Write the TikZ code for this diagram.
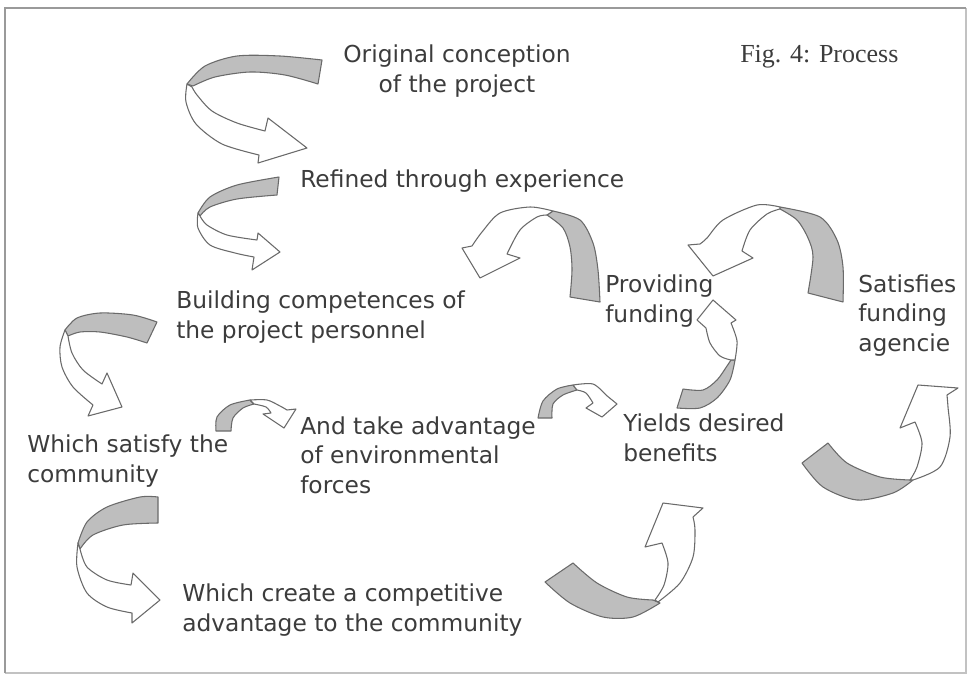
\documentclass[tikz,border=0pt]{standalone}
\usepackage{fontspec}
\setmainfont{DejaVu Sans}
\newfontfamily\figfont{Liberation Serif}
\definecolor{bandgrey}{HTML}{BEBEBE}
\definecolor{edgegrey}{HTML}{6A6A6A}
\definecolor{txtgrey}{HTML}{3C3C3C}
\definecolor{framegrey}{HTML}{9A9A9A}
\tikzset{
  backband/.style={fill=bandgrey, draw=edgegrey, line width=0.8pt, line join=round},
  frontband/.style={fill=white, draw=edgegrey, line width=0.8pt, line join=round},
  lbl/.style={font=\fontsize{17.5}{22}\selectfont, text=txtgrey, inner sep=0pt, align=left, anchor=base west},
}
\begin{document}
\begin{tikzpicture}[x={(0.75pt,0)}, y={(0,-0.75pt)}]
\useasboundingbox (0,0) rectangle (978,682);
% frame
\draw[framegrey!60, line width=1.5pt] (966,8) -- (966,673) -- (5,673);
\draw[framegrey, line width=1.8pt] (5,673) -- (5,8) -- (966,8);

% A1 original -> refined
\filldraw[backband] plot[smooth] coordinates {(322,60) (280,56) (237,56) (205,66) (187,84)}
  -- plot[smooth] coordinates {(193,86) (215,77) (250,72) (285,75) (318,84)} -- cycle;
\filldraw[frontband] plot[smooth] coordinates {(187,84) (186,102) (196,124) (222,144) (259,155)}
  -- (258,163) -- (307,148) -- (268,118)
  -- plot[smooth] coordinates {(265,131) (237,123) (212,111) (197,95) (192,87)} -- cycle;

% A2 refined -> building
\filldraw[backband] plot[smooth] coordinates {(279,177) (237,185) (210,197) (198,213)}
  -- plot[smooth] coordinates {(200,216) (210,207) (237,199) (277,195)} -- cycle;
\filldraw[frontband] plot[smooth] coordinates {(198,213) (198,228) (210,245) (235,253) (254,257)}
  -- (252,270) -- (280,252) -- (258,233)
  -- plot[smooth] coordinates {(257,240) (227,235) (207,225) (200,216)} -- cycle;

% A3 building -> which satisfy
\filldraw[backband] plot[smooth] coordinates {(157,322) (133,315) (100,313) (77,318) (65,330)}
  -- plot[smooth] coordinates {(68,336) (80,332) (100,332) (127,337) (147,343)} -- cycle;
\filldraw[frontband] plot[smooth] coordinates {(65,330) (60,347) (62,367) (73,387) (93,405)}
  -- (88,416) -- (122,407) -- (107,373)
  -- plot[smooth] coordinates {(102,384) (83,370) (72,353) (68,336)} -- cycle;

% A4 which satisfy -> and take
\filldraw[backband] plot[smooth] coordinates {(216,431) (217,417) (230,405) (250,400)}
  -- plot[smooth] coordinates {(254,404) (243,408) (233,418) (231,431)} -- cycle;
\filldraw[frontband] plot[smooth] coordinates {(250,400) (267,400) (280,406) (287,410)}
  -- (296,409) -- (284,428) -- (263,414)
  -- plot[smooth] coordinates {(271,413) (266,407) (254,404)} -- cycle;

% A5 and take -> yields
\filldraw[backband] plot[smooth] coordinates {(538,418) (543,401) (557,389) (573,385)}
  -- plot[smooth] coordinates {(577,390) (563,395) (553,404) (552,418)} -- cycle;
\filldraw[frontband] plot[smooth] coordinates {(573,385) (593,384) (606,395)}
  -- (617,404) -- (602,417) -- (586,408)
  -- plot[smooth] coordinates {(593,403) (586,393) (577,390)} -- cycle;

% A6 which create -> yields
\filldraw[backband] plot[smooth] coordinates {(545,582) (570,603) (603,617) (633,617) (660,603)}
  -- plot[smooth] coordinates {(653,600) (627,597) (597,583) (573,563)} -- cycle;
\filldraw[frontband] plot[smooth] coordinates {(658,602) (680,583) (693,557) (695,530) (693,517)}
  -- (703,508) -- (663,503) -- (645,547)
  -- plot[smooth] coordinates {(662,543) (668,563) (664,585) (655,600)} -- cycle;

% A7 which satisfy -> which create
\filldraw[backband] plot[smooth] coordinates {(158,497) (140,497) (107,507) (87,522) (78,543)}
  -- plot[smooth] coordinates {(80,549) (93,535) (123,525) (158,523)} -- cycle;
\filldraw[frontband] plot[smooth] coordinates {(78,543) (77,567) (87,593) (107,607) (132,613)}
  -- (132,623) -- (160,600) -- (133,573)
  -- plot[smooth] coordinates {(131,585) (107,580) (87,567) (80,549)} -- cycle;

% A8 -> satisfies
\filldraw[backband] plot[smooth] coordinates {(802,463) (823,487) (857,500) (893,493) (913,480)}
  -- plot[smooth] coordinates {(910,480) (880,477) (847,463) (828,443)} -- cycle;
\filldraw[frontband] plot[smooth] coordinates {(913,480) (940,467) (950,437) (948,407) (947,395)}
  -- (958,388) -- (918,385) -- (900,428)
  -- plot[smooth] coordinates {(915,422) (922,443) (917,467) (910,480)} -- cycle;

% A9 providing -> building
\filldraw[backband] plot[smooth] coordinates {(600,302) (598,270) (593,243) (580,220) (553,211)}
  -- plot[smooth] coordinates {(547,215) (563,228) (570,247) (572,270) (570,297)} -- cycle;
\filldraw[frontband] plot[smooth] coordinates {(553,211) (530,207) (500,213) (482,232) (472,246)}
  -- (462,248) -- (480,278) -- (520,258)
  -- plot[smooth] coordinates {(507,254) (520,230) (537,217) (547,215)} -- cycle;

% A10 satisfies -> providing
\filldraw[backband] plot[smooth] coordinates {(843,302) (843,267) (837,240) (820,217) (780,207)}
  -- plot[smooth] coordinates {(780,209) (797,220) (808,238) (813,257) (808,293)} -- cycle;
\filldraw[frontband] plot[smooth] coordinates {(780,207) (757,205) (723,220) (707,238) (700,244)}
  -- (688,245) -- (713,276) -- (753,258)
  -- plot[smooth] coordinates {(742,251) (750,230) (767,214) (780,209)} -- cycle;

% A11 yields -> providing
\filldraw[backband] plot[smooth] coordinates {(677,408) (700,408) (717,398) (730,380) (735,360)}
  -- plot[smooth] coordinates {(731,360) (727,366) (717,380) (703,390) (683,389)} -- cycle;
\filldraw[frontband] plot[smooth] coordinates {(735,360) (737,341) (731,323)}
  -- (736,320) -- (713,300) -- (697,320)
  -- plot[smooth] coordinates {(706,328) (710,343) (720,356) (731,360)} -- cycle;

% texts (base anchor = baseline of the last line)
\node[lbl, align=center, anchor=base] (orig) at (457,92) {Original conception\\of the project};
\node[anchor=base west, inner sep=0pt, text=txtgrey, font=\figfont\fontsize{19.5}{22}\selectfont] (fig) at (740,62) {Fig. 4: Process};
\node[lbl] (refined) at (300,187) {Refined through experience};
\node[lbl] (building) at (176,338) {Building competences of\\the project personnel};
\node[lbl] (satisfy) at (27,482) {Which satisfy the\\community};
\node[lbl] (take) at (300,493) {And take advantage\\of environmental\\forces};
\node[lbl] (yields) at (623,461) {Yields desired\\benefits};
\node[lbl] (providing) at (605,322) {Providing\\funding};
\node[lbl] (satisfies) at (858,351) {Satisfies\\funding\\agencie};
\node[lbl] (create) at (182,631) {Which create a competitive\\advantage to the community};
\end{tikzpicture}
\end{document}
